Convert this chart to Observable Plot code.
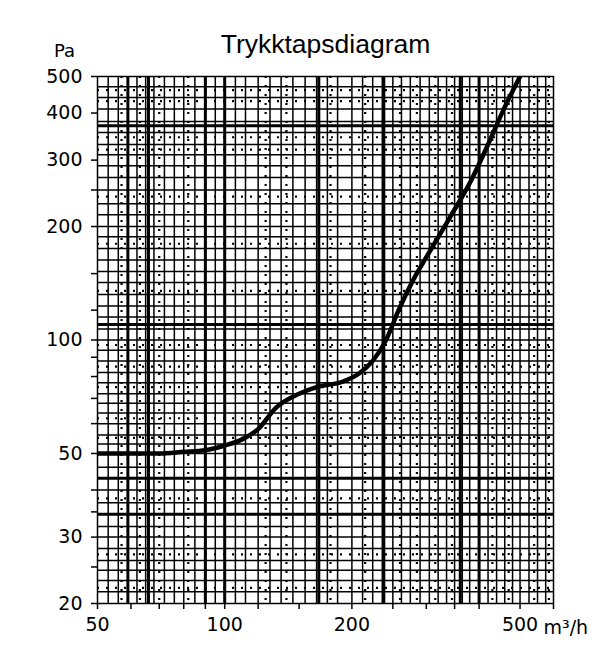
<!DOCTYPE html>
<html>
<head>
<meta charset="utf-8">
<script src="https://cdn.jsdelivr.net/npm/d3@7"></script>
<script src="https://cdn.jsdelivr.net/npm/@observablehq/plot@0.6"></script>
<style>
  html, body { margin: 0; padding: 0; background: #fff; }
  #wrap { position: relative; width: 616px; height: 652px; overflow: hidden; background: #fff; }
  #frame { position: absolute; left: 7px; top: 9px; width: 800px; height: 800px; border-left: 1.5px solid #8a8a8a; border-top: 1.5px solid #8a8a8a; }
  #chart { position: absolute; left: 0; top: 0; }
</style>
</head>
<body>
<div id="wrap"><div id="frame"></div><div id="chart"></div></div>
<script>
// Curve (flow m³/h vs pressure loss Pa)
const flow     = [50, 60, 70, 80, 90, 100, 110, 120, 132, 150, 165, 190, 208, 224, 241, 258, 280, 304, 340, 383, 420, 456, 500];
const pressure = [50, 50, 50, 50.5, 51, 52.5, 54.5, 58, 66, 72, 75, 77.5, 81.5, 88, 100, 120, 145, 170, 210, 265, 330, 406, 500];

// Axis ticks and labels
const xTicks = [50, 60, 70, 80, 90, 100, 120, 150, 200, 250, 300, 350, 400, 500, 600];
const xLabels = [50, 100, 200, 500];
const yTicks = [20, 25, 30, 35, 40, 50, 60, 70, 80, 90, 100, 120, 150, 200, 250, 300, 400, 500];
const yLabels = [20, 30, 50, 100, 200, 300, 400, 500];

// Grid lines (values)
const xGrid = [50, 53, 56, 59, 62, 65, 68, 72, 76, 80, 85, 90, 95, 100, 106, 112, 120, 128, 136, 145, 155, 165, 175, 185, 200, 212, 224, 236, 250, 262, 275, 290, 305, 320, 335, 350, 365, 380, 400, 420, 440, 460, 480, 500, 525, 550, 575, 600];
const xGridBold = [59, 66, 90, 100, 167, 238, 361, 400];
const xGridDotted = [57, 63, 70, 82, 125, 140, 178, 215, 260, 285, 315, 345, 430, 470, 540, 585];
const yGrid = [20, 21.5, 23, 24.5, 26, 28, 30, 32, 34.5, 37, 40, 43, 46, 50, 53, 56, 60, 64, 68, 72, 77, 82, 88, 94, 100, 107, 115, 123, 132, 142, 152, 163, 175, 188, 200, 215, 230, 250, 270, 290, 310, 330, 355, 380, 410, 440, 470, 500];
const yGridBold = [34.5, 43, 110, 370];
const yGridDotted = [22, 27, 38, 55, 62, 75, 85, 97, 135, 180, 240, 320, 345, 430, 460];

const font = "DejaVu Sans, Liberation Sans, sans-serif";

const plot = Plot.plot({
  width: 616,
  height: 652,
  marginLeft: 97,
  marginRight: 63,
  marginTop: 76,
  marginBottom: 49,
  style: { background: "white", fontFamily: font, fontSize: "19px", color: "black", overflow: "visible" },
  x: { type: "log", domain: [50, 600] },
  y: { type: "log", domain: [20, 500] },
  marks: [
    Plot.ruleX(xGridDotted, { stroke: "black", strokeWidth: 2.2, strokeDasharray: "2,7" }),
    Plot.ruleY(yGridDotted, { stroke: "black", strokeWidth: 2.2, strokeDasharray: "2,7" }),
    Plot.ruleX(xGrid, { stroke: "black", strokeWidth: 1.5 }),
    Plot.ruleY(yGrid, { stroke: "black", strokeWidth: 1.5 }),
    Plot.ruleX(xGridBold, { stroke: "black", strokeWidth: 3 }),
    Plot.ruleY(yGridBold, { stroke: "black", strokeWidth: 3 }),
    Plot.line(flow.map((f, i) => ({ f, p: pressure[i] })), { x: "f", y: "p", stroke: "black", strokeWidth: 4.5, curve: "monotone-x", clip: true }),
    Plot.axisX(xTicks, { tickSize: 6, tickPadding: 8, stroke: "black", strokeWidth: 1.5,
      tickFormat: d => xLabels.includes(d) ? String(d) : "", fontSize: 19, fontFamily: font, label: null }),
    Plot.axisY(yTicks, { tickSize: 6, tickPadding: 9, stroke: "black", strokeWidth: 1.5,
      tickFormat: d => yLabels.includes(d) ? String(d) : "", fontSize: 19, fontFamily: font, label: null }),
    Plot.text(["Trykktapsdiagram"], { frameAnchor: "top", dx: 0, dy: -32, textAnchor: "middle", lineAnchor: "middle",
      fontSize: 26.5, fontFamily: "Liberation Sans, Arial, sans-serif", fill: "black" }),
    Plot.text(["Pa"], { frameAnchor: "top-left", dx: -33, dy: -25, textAnchor: "middle", lineAnchor: "middle",
      fontSize: 18, fontFamily: font, fill: "black" }),
    Plot.text(["m³/h"], { frameAnchor: "bottom-right", dx: -10, dy: 24, textAnchor: "start", lineAnchor: "middle",
      fontSize: 19, fontFamily: font, fill: "black" })
  ]
});
document.getElementById("chart").appendChild(plot);
</script>
</body>
</html>
